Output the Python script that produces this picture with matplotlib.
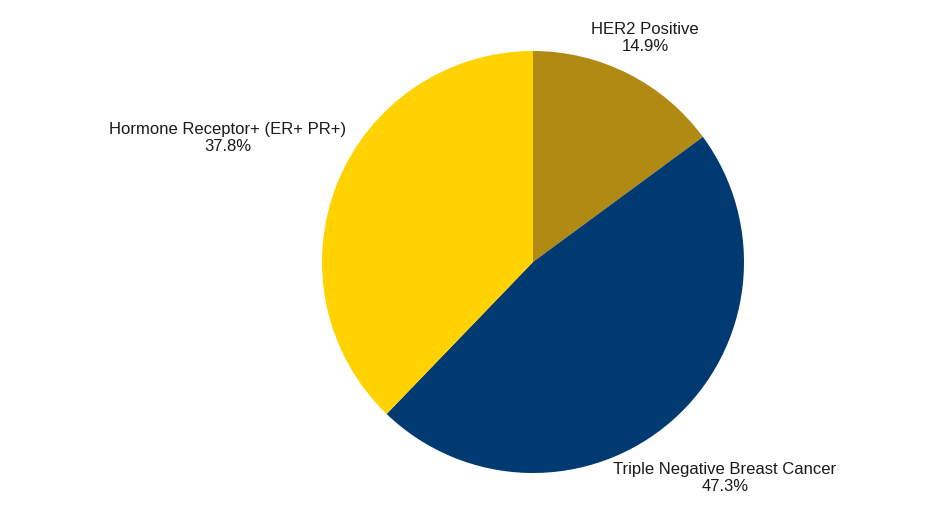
import matplotlib.pyplot as plt

plt.rcParams["font.family"] = ["Liberation Sans", "DejaVu Sans"]

categories = ["HER2 Positive", "Triple Negative Breast Cancer", "Hormone Receptor+ (ER+ PR+)"]
shares = [14.9, 47.3, 37.8]
colors = ["#B08A12", "#003A70", "#FFD200"]

# label anchor positions in pixel space (x, y from top)
label_pos = {
    "HER2 Positive": (645, 38),
    "Triple Negative Breast Cancer": (725, 478),
    "Hormone Receptor+ (ER+ PR+)": (228, 138),
}

W, H = 931, 522
fig = plt.figure(figsize=(W / 100, H / 100), dpi=100)
ax = fig.add_axes([0, 0, 1, 1])

ax.pie(shares, colors=colors, startangle=90, counterclock=False,
       center=(533, H - 262), radius=211, frame=True)
ax.set_xlim(0, W)
ax.set_ylim(0, H)
ax.set_aspect("equal")
ax.axis("off")

for name, value in zip(categories, shares):
    x, y = label_pos[name]
    ax.text(x, H - y, f"{name}\n{value:.1f}%", ha="center", va="center",
            fontsize=12, color="#1a1a1a", linespacing=1.1)

fig.savefig("out.png", dpi=100)
plt.close(fig)
